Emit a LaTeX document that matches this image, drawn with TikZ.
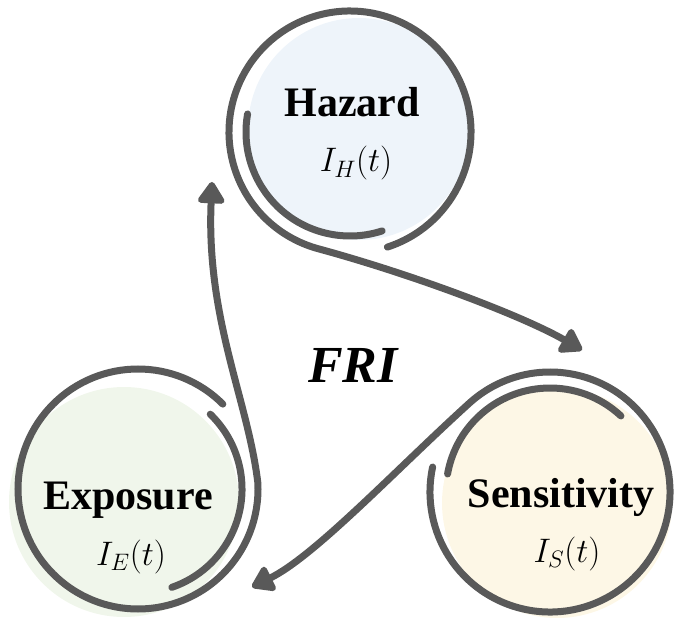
\RequirePackage{fix-cm}
\documentclass[tikz,border=0pt]{standalone}
\usepackage{fontspec}
\setmainfont{Liberation Serif}
\usetikzlibrary{arrows.meta}
\definecolor{ringgray}{RGB}{89,89,89}
\definecolor{hazfill}{RGB}{238,244,250}
\definecolor{expfill}{RGB}{240,246,235}
\definecolor{senfill}{RGB}{253,247,230}
\begin{document}
\begin{tikzpicture}[x=1pt,y=1pt,
  ring/.style={draw=ringgray, line width=7pt, line cap=round},
  tipstyle/.style={-{Triangle[length=24pt,width=30pt,round]}},
  title/.style={font=\fontsize{42}{42}\selectfont\bfseries, inner sep=0pt, anchor=base},
  formula/.style={font=\fontsize{34}{34}\selectfont, inner sep=0pt, anchor=base},
  centretext/.style={font=\fontsize{52}{52}\selectfont\bfseries\itshape, inner sep=0pt, anchor=base},
  blob/.style={circle, inner sep=0pt, draw=none}]
\useasboundingbox (0,0) rectangle (674,619);
% fills
\node[blob, fill=hazfill, minimum size=222pt] (H) at (359,490) {};
\node[blob, fill=expfill, minimum size=230pt] (E) at (124,117) {};
\node[blob, fill=senfill, minimum size=230pt] (S) at (557,116) {};
% ring centres and arrow tips
\coordinate (Hc) at (350,487);
\coordinate (Ec) at (138,130);
\coordinate (Sc) at (550,127);
\coordinate (tipS) at (582,269);
\coordinate (tipH) at (212,437);
\coordinate (tipE) at (252,32);
% hazard
\draw[ring] ([shift={(170:104)}]Hc) arc[start angle=170, end angle=288, radius=104];
\draw[ring, tipstyle] ([shift={(288:121)}]Hc) arc[start angle=288, end angle=615, radius=121]
  .. controls +(92,-25) and +(-61,35) .. (tipS);
% exposure
\draw[ring] ([shift={(-71:104)}]Ec) arc[start angle=-71, end angle=46, radius=104];
\draw[ring, tipstyle] ([shift={(45:120)}]Ec) arc[start angle=45, end angle=363, radius=120]
  .. controls +(-10,83) and +(-6,-137) .. (tipH);
% sensitivity
\draw[ring] ([shift={(47:104)}]Sc) arc[start angle=47, end angle=170, radius=104];
\draw[ring, tipstyle] ([shift={(168:120)}]Sc) arc[start angle=168, end angle=492, radius=120]
  .. controls +(-74,-67) and +(63,31) .. (tipE);
% texts
\node[title] (Ht) at (352,502) {Hazard};
\node[formula] (Hf) at (356,447) {$I_H(t)$};
\node[title] (Et) at (128,110) {Exposure};
\node[formula] (Ef) at (131,54) {$I_E(t)$};
\node[title] (St) at (561,112) {Sensitivity};
\node[formula] (Sf) at (567,57) {$I_S(t)$};
\node[centretext] (Fr) at (353,237) {FRI};
\end{tikzpicture}
\end{document}
